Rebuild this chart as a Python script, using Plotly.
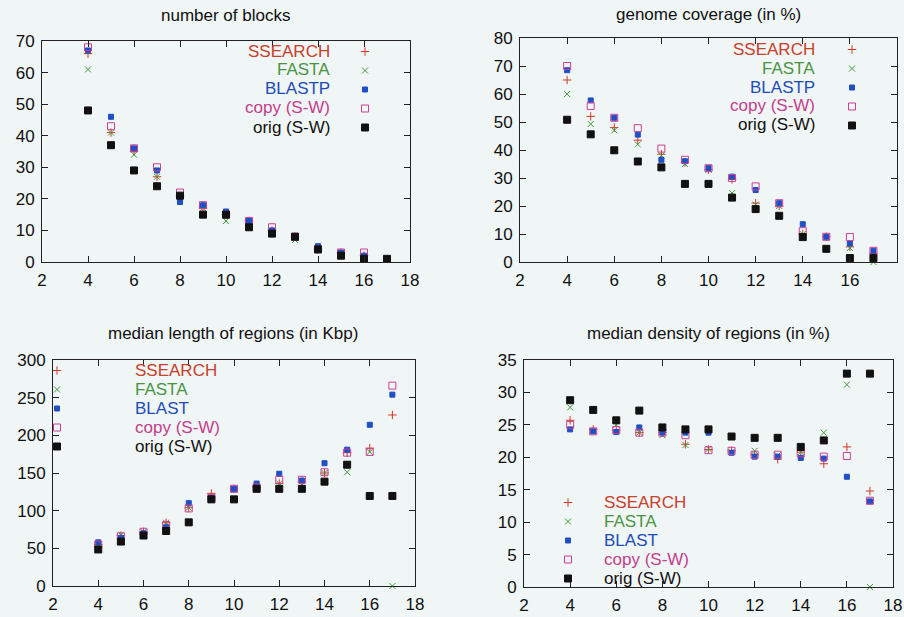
import plotly.graph_objects as go

W, H = 904, 617
x_vals = [4, 5, 6, 7, 8, 9, 10, 11, 12, 13, 14, 15, 16, 17]

# number of blocks
blocks_ssearch = [66, 41, 35, 27, 21, 17, 15, 13, 10, 8, 4, 3, 2, None]
blocks_fasta = [61, 41, 34, 27, 20, 17, 13, 13, 9, 7, 4, 3, 1, None]
blocks_blastp = [67, 46, 36, 29, 19, 18, 16, 13, 10, 8, 5, 3, 2, None]
blocks_copy = [68, 43, 36, 30, 22, 18, 15, 13, 11, 8, 4, 3, 3, None]
blocks_orig = [48, 37, 29, 24, 21, 15, 15, 11, 9, 8, 4, 2, 1, 1]

# genome coverage (in %)
cov_ssearch = [65, 52, 48, 43.5, 38.5, 35.5, 33, 29.5, 21, 20, 10, 9, 5.4, 3]
cov_fasta = [60, 49.3, 47, 42, 38, 35, 33, 24.6, 20.5, 20, 10, 9, 5, 0]
cov_blastp = [68.5, 57.7, 51.5, 45.5, 36.5, 36, 33.5, 30.5, 25.7, 21, 13.5, 9, 6.6, 4]
cov_copy = [70, 55.7, 51.5, 47.8, 40.5, 36.5, 33.5, 30, 27, 21, 11, 9, 8.9, 4]
cov_orig = [50.8, 45.6, 39.9, 35.9, 33.8, 27.9, 27.9, 23, 18.9, 16.5, 8.9, 4.7, 1.4, 1.4]

# median length of regions (in Kbp)
len_ssearch = [55, 67, 72, 84, 104, 123, 129, 131, 136, 138, 150, 177, 183, 227]
len_fasta = [55, 68, 72, 84, 104, 117, 128, 131, 136, 135, 150, 151, 178, 0]
len_blast = [58, 64, 70, 78, 110, 117, 129, 136, 149, 140, 163, 181, 214, 254]
len_copy = [55, 66, 72, 81, 103, 117, 129, 131, 141, 141, 151, 177, 178, 266]
len_orig = [48.5, 59, 67, 73, 84.5, 115, 115, 129, 129, 129, 138.5, 161, 119.5, 119.5]

# median density of regions (in %)
den_ssearch = [25.7, 24.3, 24.2, 23.8, 23.8, 22.0, 21.2, 21.0, 20.4, 19.7, 20.8, 19.0, 21.6, 14.8]
den_fasta = [27.7, 24.0, 25.0, 23.8, 23.4, 21.9, 21.3, 20.8, 21.0, 20.3, 20.8, 23.8, 31.2, 0]
den_blast = [24.3, 24.0, 23.9, 24.6, 23.8, 23.8, 23.8, 20.7, 20.1, 20.1, 19.9, 19.8, 17.0, 13.2]
den_copy = [25.0, 24.0, 24.2, 23.8, 23.8, 23.4, 21.1, 21.0, 20.4, 20.4, 20.6, 20.1, 20.2, 13.3]
den_orig = [28.8, 27.3, 25.7, 27.2, 24.6, 24.3, 24.3, 23.2, 23.0, 23.0, 21.6, 22.6, 32.9, 32.9]

titles = ["number of blocks", "genome coverage (in %)",
          "median length of regions (in Kbp)", "median density of regions (in %)"]
names_top = ["SSEARCH", "FASTA", "BLASTP", "copy (S-W)", "orig (S-W)"]
names_bottom = ["SSEARCH", "FASTA", "BLAST", "copy (S-W)", "orig (S-W)"]
y_ranges = [(0, 70, 10), (0, 80, 10), (0, 300, 50), (0, 35, 5)]

colors = ["#d23a26", "#3f9a3a", "#1f4fc4", "#cc3f94", "#111111"]
text_colors = ["#c8402c", "#4a9444", "#1d4cb8", "#c23f8c", "#111111"]
symbols = ["cross-thin-open", "x-thin-open", "square", "square-open", "square"]
sizes = [6, 6, 5, 7, 7]

FONT = "Liberation Sans, Arial, sans-serif"
BG = "#f0f5f5"

# panel boxes in pixels: left, right, top, bottom
boxes = [(42, 410, 41, 262), (520, 897, 38, 262), (53, 415, 360, 586), (524, 893, 360, 587)]
title_pos = [(225, 15), (708, 14), (233, 333), (708, 333)]

def px(x):
    return x / W

def py(y):
    return 1 - y / H

panels = [
    [blocks_ssearch, blocks_fasta, blocks_blastp, blocks_copy, blocks_orig],
    [cov_ssearch, cov_fasta, cov_blastp, cov_copy, cov_orig],
    [len_ssearch, len_fasta, len_blast, len_copy, len_orig],
    [den_ssearch, den_fasta, den_blast, den_copy, den_orig],
]

fig = go.Figure()
layout = dict(width=W, height=H, margin=dict(l=0, r=0, t=0, b=0, autoexpand=False),
              paper_bgcolor=BG, plot_bgcolor=BG, showlegend=True,
              font=dict(family=FONT, size=17, color="#111"))
annotations = []

# legend layout (pixels): marker x, first row y, text x, text side
leg_cfg = [
    (365, 51, 332, "right"),
    (852, 49, 817, "right"),
    (57, 370, 133, "left"),
    (568, 502, 602, "left"),
]
ROW = 19  # plotly legend row height

for i, series in enumerate(panels):
    ax = "" if i == 0 else str(i + 1)
    leg = "legend" if i == 0 else "legend" + str(i + 1)
    names = names_top if i < 2 else names_bottom
    for j, vals in enumerate(series):
        fig.add_trace(go.Scatter(
            x=x_vals, y=vals, mode="markers", name=" ", meta=names[j],
            hovertemplate="%{meta}: (%{x}, %{y})<extra></extra>",
            xaxis="x" + ax, yaxis="y" + ax, legend=leg,
            marker=dict(symbol=symbols[j], size=sizes[j], color=colors[j],
                        line=dict(width=1, color=colors[j])),
            cliponaxis=False))
    l, r, t, b = boxes[i]
    y0, y1, dt = y_ranges[i]
    common = dict(showline=True, linecolor="#222", linewidth=1, mirror="allticks",
                  ticks="inside", ticklen=6, tickcolor="#222", showgrid=False,
                  zeroline=False, tickfont=dict(family=FONT, size=17, color="#111"))
    layout["xaxis" + ax] = dict(domain=[px(l), px(r)], range=[2, 18], dtick=2,
                                anchor="y" + ax, ticklabelstandoff=3, **common)
    layout["yaxis" + ax] = dict(domain=[py(b), py(t)], range=[y0, y1], dtick=dt,
                                anchor="x" + ax, ticklabelstandoff=3, **common)
    mx, ry, tx, side = leg_cfg[i]
    layout[leg] = dict(x=px(mx - 20), y=py(ry - 14), xanchor="left", yanchor="top",
                       bgcolor="rgba(0,0,0,0)", borderwidth=0, tracegroupgap=0,
                       font=dict(size=10, color="rgba(0,0,0,0)"), itemwidth=30)
    for j, nm in enumerate(names):
        annotations.append(dict(
            text=nm, x=px(tx), y=py(ry + j * ROW), xref="paper", yref="paper",
            xanchor=side, yanchor="middle", showarrow=False,
            font=dict(family=FONT, size=17, color=text_colors[j])))
    tx0, ty0 = title_pos[i]
    annotations.append(dict(text=titles[i], x=px(tx0), y=py(ty0), xref="paper", yref="paper",
                            xanchor="center", yanchor="middle", showarrow=False,
                            font=dict(family=FONT, size=17, color="#111")))

layout["annotations"] = annotations
fig.update_layout(**layout)
fig.write_html(
    "out.html",
    config={"displayModeBar": False},
    post_script=("document.body.style.margin='0';"
                 "document.body.style.background='" + BG + "';"
                 "document.documentElement.style.overflow='hidden';"))
